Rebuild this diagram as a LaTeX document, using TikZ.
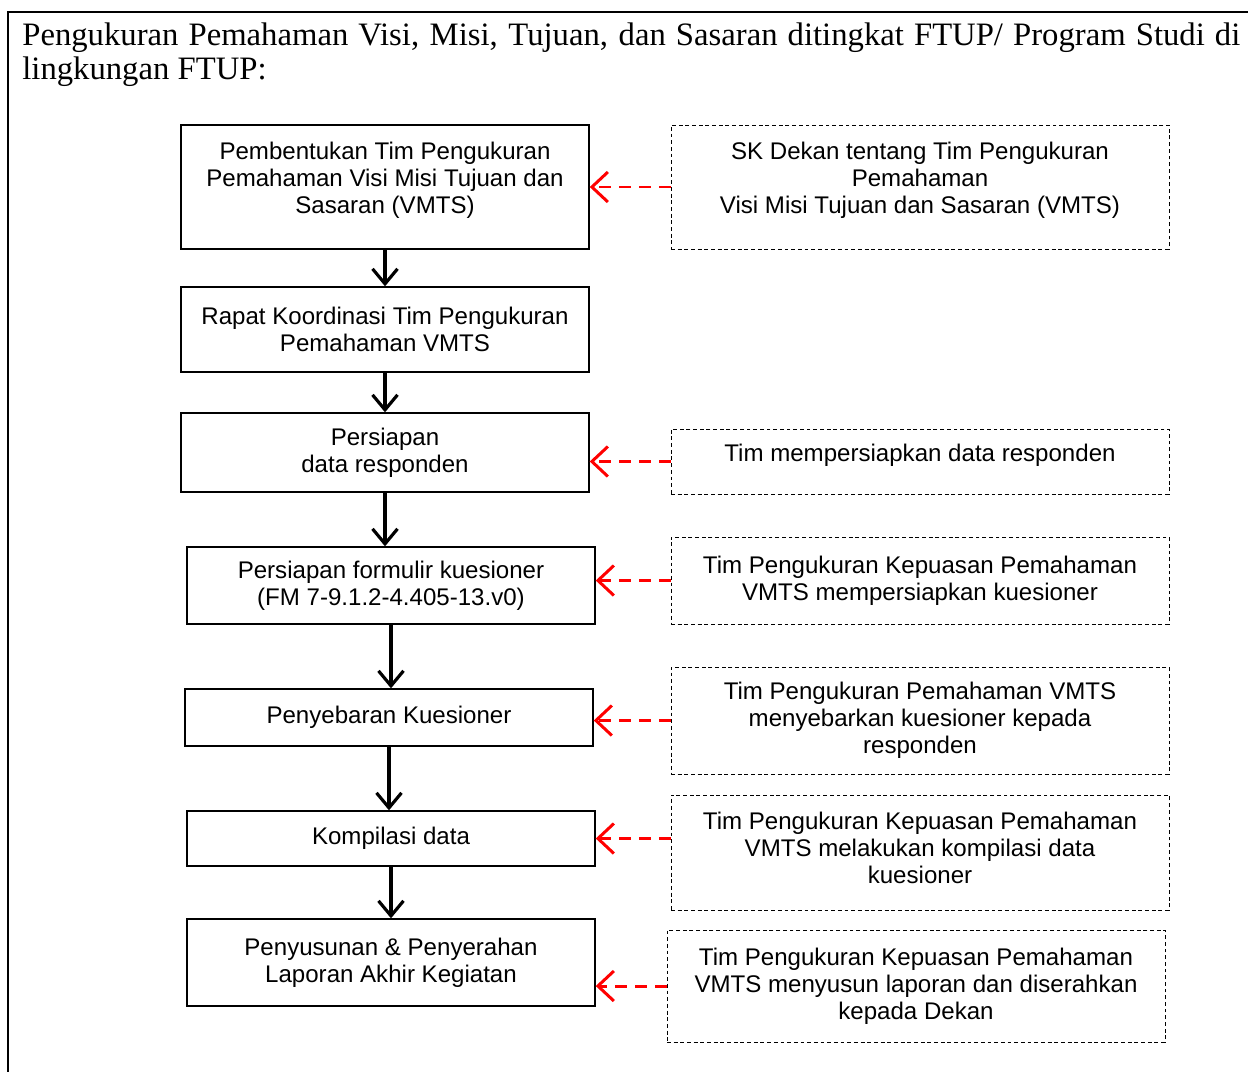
\documentclass[tikz,border=0pt]{standalone}
\usepackage{fontspec}
\setmainfont{Liberation Serif}
\newfontfamily\arial{Liberation Sans}
\usepackage{tikz}
\usetikzlibrary{arrows.meta,positioning}
\definecolor{Flow}{HTML}{000000}
\definecolor{Note}{HTML}{FF0000}

\begin{document}
\begin{tikzpicture}[
  stepbox/.style={draw=Flow,line width=0.8pt,minimum width=8.16cm,align=center,inner sep=2pt,font=\arial\fontsize{13.7}{15.4}\selectfont},
  notebox/.style={draw=Flow,line width=0.5pt,dash pattern=on 2.2pt off 1.6pt,minimum width=9.96cm,align=center,inner sep=2pt,font=\arial\fontsize{13.7}{15.4}\selectfont},
  flow/.style={-{Straight Barb[length=3mm,width=5mm]},line width=1.8pt,draw=Flow},
  note/.style={-{Straight Barb[length=3.2mm,width=6mm]},line width=1.7pt,draw=Note,dash pattern=on 0.24cm off 0.16cm}
]
\useasboundingbox (0,0) rectangle (24.96,-21.44);
\draw[line width=0.8pt] (24.96,-0.24) -- (0.16,-0.24) -- (0.16,-21.44);
\node[anchor=base west,inner sep=0,text width=24.36cm,align=justify,font=\fontsize{18.6}{19.8}\selectfont] (title) at (0.44,-0.90)
  {Pengukuran Pemahaman Visi, Misi, Tujuan, dan Sasaran ditingkat FTUP/ Program Studi di\linebreak lingkungan FTUP:};

% alur kegiatan
\node[stepbox,minimum height=2.48cm,text depth=0.38cm] (b1) at (7.70,-3.74) {Pembentukan Tim Pengukuran\\Pemahaman Visi Misi Tujuan dan\\Sasaran (VMTS)};
\node[stepbox,minimum height=1.70cm] (b2) at (7.70,-6.59) {Rapat Koordinasi Tim Pengukuran\\Pemahaman VMTS};
\node[stepbox,minimum height=1.58cm] (b3) at (7.70,-9.05) {Persiapan\\data responden};
\node[stepbox,minimum height=1.54cm] (b4) at (7.82,-11.71) {Persiapan formulir kuesioner\\(FM 7-9.1.2-4.405-13.v0)};
\node[stepbox,minimum height=1.14cm] (b5) at (7.78,-14.35) {Penyebaran Kuesioner};
\node[stepbox,minimum height=1.10cm] (b6) at (7.82,-16.77) {Kompilasi data};
\node[stepbox,minimum height=1.74cm] (b7) at (7.82,-19.25) {Penyusunan \& Penyerahan\\Laporan Akhir Kegiatan};

% keterangan
\node[notebox,minimum height=2.48cm,text depth=0.38cm] (r1) at (18.40,-3.74) {SK Dekan tentang Tim Pengukuran\\Pemahaman\\Visi Misi Tujuan dan Sasaran (VMTS)};
\node[notebox,minimum height=1.30cm,text depth=0.36cm] (r3) at (18.40,-9.23) {Tim mempersiapkan data responden};
\node[notebox,minimum height=1.74cm] (r4) at (18.40,-11.61) {Tim Pengukuran Kepuasan Pemahaman\\VMTS mempersiapkan kuesioner};
\node[notebox,minimum height=2.14cm] (r5) at (18.40,-14.41) {Tim Pengukuran Pemahaman VMTS\\menyebarkan kuesioner kepada\\responden};
\node[notebox,minimum height=2.30cm,text depth=0.20cm] (r6) at (18.40,-17.05) {Tim Pengukuran Kepuasan Pemahaman\\VMTS melakukan kompilasi data\\kuesioner};
\node[notebox,minimum height=2.24cm] (r7) at (18.32,-19.72) {Tim Pengukuran Kepuasan Pemahaman\\VMTS menyusun laporan dan diserahkan\\kepada Dekan};

\foreach \a/\b in {b1/b2,b2/b3,b3/b4,b4/b5,b5/b6,b6/b7} {
  \draw[flow] (\a.south) -- (\a.south |- \b.north);
}
\draw[note] (r1.west) -- (r1.west -| b1.east);
\draw[note] (r3.west) -- (r3.west -| b3.east);
\draw[note] (r4.west) -- (r4.west -| b4.east);
\draw[note] (r5.west) -- (r5.west -| b5.east);
\draw[note] (r6.west |- b6.east) -- (b6.east);
\draw[note] (r7.west) -- (r7.west -| b7.east);
\end{tikzpicture}
\end{document}
